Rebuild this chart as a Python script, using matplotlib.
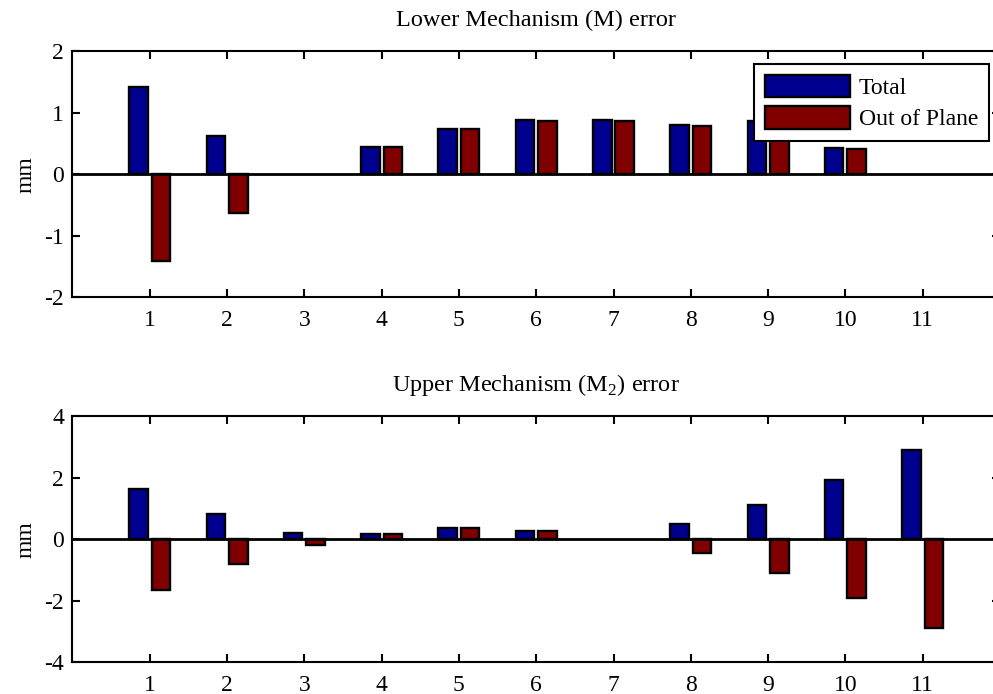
import matplotlib.pyplot as plt
import numpy as np

plt.rcParams['font.family'] = ['Liberation Serif', 'DejaVu Serif']
plt.rcParams['mathtext.fontset'] = 'custom'
plt.rcParams['mathtext.rm'] = 'Liberation Serif'
plt.rcParams['axes.unicode_minus'] = False

points = np.arange(1, 12)

# lower mechanism
lower_total = [1.42, 0.62, 0.0, 0.45, 0.74, 0.88, 0.89, 0.80, 0.86, 0.43, 0.0]
lower_oop = [-1.42, -0.63, 0.0, 0.45, 0.74, 0.87, 0.87, 0.79, 0.84, 0.41, 0.0]

# upper mechanism
upper_total = [1.65, 0.81, 0.21, 0.18, 0.35, 0.28, 0.0, 0.49, 1.10, 1.92, 2.91]
upper_oop = [-1.65, -0.80, -0.18, 0.18, 0.35, 0.28, 0.0, -0.46, -1.10, -1.90, -2.89]

blue = '#00008F'
red = '#800000'
w = 0.24
off = 0.145


def edge_widths(vals):
    # no outline for empty points
    return np.where(np.array(vals) == 0, 0.0, 1.7)


fig = plt.figure(figsize=(9.93, 6.94), dpi=100)
ax1 = fig.add_axes([0.073, 0.572, 0.934, 0.354])
ax2 = fig.add_axes([0.073, 0.046, 0.934, 0.354])


def draw(ax, tot, oop, lim, step, title):
    ax.bar(points - off, tot, w, color=blue, edgecolor='k',
           linewidth=edge_widths(tot), label='Total')
    ax.bar(points + off, oop, w, color=red, edgecolor='k',
           linewidth=edge_widths(oop), label='Out of Plane')
    ax.axhline(0, color='k', linewidth=2.0, zorder=3)
    ax.set_xlim(0, 12)
    ax.set_ylim(-lim, lim)
    ax.set_xticks(points)
    ax.set_yticks(np.arange(-lim, lim + 1, step))
    ax.tick_params(direction='in', top=True, right=True, length=6, width=1.5,
                   labelsize=17)
    ax.tick_params(axis='x', pad=9)
    ax.tick_params(axis='y', pad=6)
    for s in ax.spines.values():
        s.set_linewidth(1.5)
    ax.set_ylabel('mm', fontsize=17, labelpad=6)
    ax.set_title(title, fontsize=17.5, pad=18)


draw(ax1, lower_total, lower_oop, 2, 1, 'Lower Mechanism (M) error')
draw(ax2, upper_total, upper_oop, 4, 2, r'Upper Mechanism (M$_2$) error')

leg = ax1.legend(loc='upper right', bbox_to_anchor=(989 / 993, 1 - 64 / 694),
                 bbox_transform=fig.transFigure, fontsize=17, frameon=True,
                 fancybox=False, edgecolor='k', framealpha=1,
                 handlelength=3.6, handleheight=1.1,
                 borderpad=0.45, labelspacing=0.3, handletextpad=0.4,
                 borderaxespad=0)
leg.set_zorder(5)
leg.get_frame().set_linewidth(1.5)
for p in leg.get_patches():
    p.set_linewidth(1.7)

plt.savefig('out.png', dpi=100)
